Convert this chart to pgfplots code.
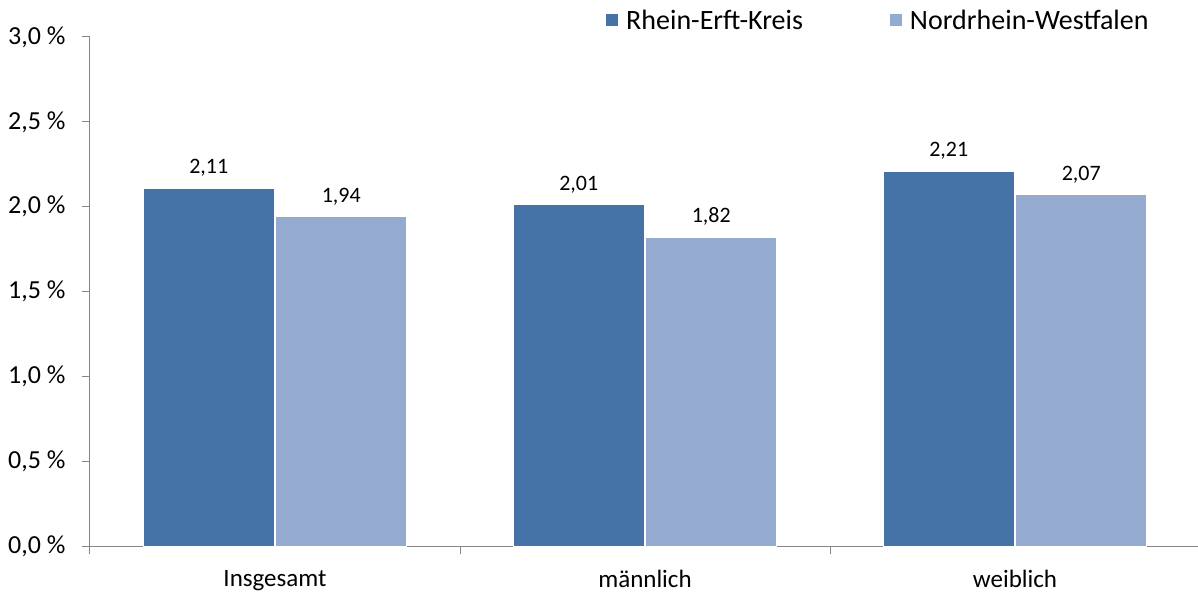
\documentclass[border=0pt]{standalone}
\usepackage{pgfplots}
\pgfplotsset{compat=1.18}
\usepackage{fontspec}
\setmainfont{Carlito}
\definecolor{rek}{RGB}{69,115,167}
\definecolor{nrw}{RGB}{149,170,207}
\definecolor{axgray}{RGB}{134,134,134}
\begin{document}
\begin{tikzpicture}
\begin{axis}[
  scale only axis,
  width=1110pt, height=509pt,
  xmin=-0.5, xmax=2.5,
  ymin=0, ymax=3.0,
  ytick={0,0.5,...,3.0},
  yticklabel={\pgfmathprintnumber[fixed,fixed zerofill,precision=1,use comma]{\tick}~\%},
  /pgf/number format/assume math mode=true,
  axis x line=bottom, axis y line=left,
  axis line style={-, draw=axgray, line width=1pt},
  tick style={draw=axgray, line width=1pt},
  tick align=outside,
  major tick length=8pt,
  xtick={-0.5,0.5,1.5,2.5},
  xticklabels={},
  extra x ticks={0,1,2},
  extra x tick labels={Insgesamt,männlich,weiblich},
  extra x tick style={major tick length=0pt, xticklabel style={yshift=-21pt}},
  ticklabel style={text=black},
  yticklabel style={font=\fontsize{26}{30}\selectfont, xshift=-13pt},
  xticklabel style={font=\fontsize{25}{29}\selectfont},
  ybar=1.5pt,
  bar width=131pt,
  nodes near coords,
  nodes near coords style={font=\fontsize{22}{26}\selectfont, text=black, anchor=south, yshift=8pt,
    /pgf/number format/.cd, fixed, fixed zerofill, precision=2, use comma},
  legend style={at={(0.464,1.033)}, anchor=west, draw=none, fill=none, inner sep=0pt,
    font=\fontsize{28}{32}\selectfont, legend columns=2,
    /tikz/every even column/.append style={column sep=84pt}},
  legend image code/.code={\fill[#1] (0pt,-6.5pt) rectangle (13pt,6.5pt); \path (0pt,0pt) (18pt,0pt);},
  clip=false,
]
\addplot[fill=rek, draw=white, line width=1pt] coordinates {(0,2.11) (1,2.01) (2,2.21)};
\addplot[fill=nrw, draw=white, line width=1pt] coordinates {(0,1.94) (1,1.82) (2,2.07)};
\legend{Rhein-Erft-Kreis, Nordrhein-Westfalen}
\end{axis}
\pgfresetboundingbox
\path (-90pt,-48pt) rectangle (1108pt,546pt);
\end{tikzpicture}
\end{document}
